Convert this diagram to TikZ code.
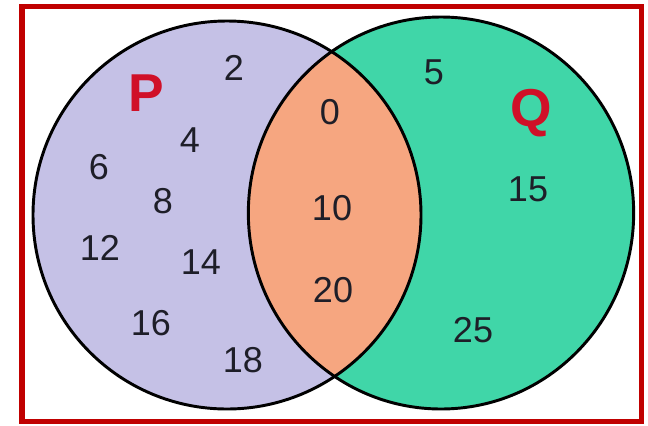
\documentclass[tikz,border=0pt]{standalone}
\usepackage{fontspec}
\setmainfont{Liberation Sans}
\definecolor{lav}{RGB}{197,193,230}
\definecolor{grn}{RGB}{64,214,168}
\definecolor{org}{RGB}{246,166,128}
\definecolor{redtxt}{RGB}{208,16,40}
\definecolor{frame}{RGB}{192,0,0}
\definecolor{ink}{RGB}{30,30,40}
\tikzset{
  num/.style={font=\fontsize{27}{27}\selectfont, text=ink, inner sep=0pt},
  setlbl/.style={font=\bfseries\fontsize{40}{40}\selectfont, text=redtxt, inner sep=0pt},
  outline/.style={draw=black, line width=2.2pt},
}
\begin{document}
\begin{tikzpicture}[x=0.75pt,y=-0.75pt]
\useasboundingbox (0,0) rectangle (648,425);
\fill[white] (0,0) rectangle (648,425);
% sets
\fill[lav] (227,215) ellipse [x radius=145.5pt, y radius=145.5pt];
\fill[grn] (441,213) ellipse [x radius=144.5pt, y radius=147pt];
\begin{scope}
  \clip (227,215) ellipse [x radius=145.5pt, y radius=145.5pt];
  \fill[org] (441,213) ellipse [x radius=144.5pt, y radius=147pt];
\end{scope}
\draw[outline] (227,215) ellipse [x radius=145.5pt, y radius=145.5pt];
\draw[outline] (441,213) ellipse [x radius=144.5pt, y radius=147pt];
% frame
\draw[frame, line width=3.8pt] (22,6.5) rectangle (641.5,421.5);
% labels
\node[setlbl] (P) at (146,93) {P};
\node[setlbl] (Q) at (531,113) {Q};
% P only
\node[num] (n2) at (234,68) {2};
\node[num] (n4) at (190,140) {4};
\node[num] (n6) at (99,167) {6};
\node[num] (n8) at (163,201) {8};
\node[num] (n12) at (100,248) {12};
\node[num] (n14) at (201,262) {14};
\node[num] (n16) at (151,323) {16};
\node[num] (n18) at (243,360) {18};
% intersection
\node[num] (n0) at (330,112) {0};
\node[num] (n10) at (332,208) {10};
\node[num] (n20) at (333,290) {20};
% Q only
\node[num] (n5) at (434,72) {5};
\node[num] (n15) at (528,189) {15};
\node[num] (n25) at (473,330) {25};
\end{tikzpicture}
\end{document}
